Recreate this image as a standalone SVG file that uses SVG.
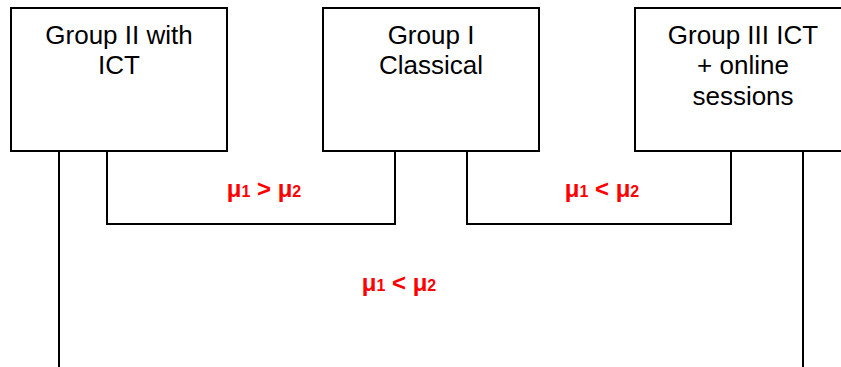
<svg xmlns="http://www.w3.org/2000/svg" width="841" height="367" viewBox="0 0 841 367">
<style>
.box{fill:#fff;stroke:#000;stroke-width:2}
.t{font-family:"Liberation Sans",Arial,sans-serif;font-size:26px;fill:#000;text-anchor:middle}
.c{fill:none;stroke:#000;stroke-width:2}
.lbl{font-family:"Liberation Sans",Arial,sans-serif;font-size:24px;font-weight:bold;fill:#ff0000;text-anchor:middle}
.sub{font-size:16px}
</style>
<rect width="841" height="367" fill="#fff"/>
<g id="connectors">
<path class="c" d="M59,151 V367"/>
<path class="c" d="M107,151 V224 H395 V151"/>
<path class="c" d="M467,151 V224 H731 V151"/>
<path class="c" d="M803,151 V367"/>
</g>
<g id="group2">
<rect class="box" x="11" y="8" width="216" height="143"/>
<text class="t" x="119" y="44">Group II with</text>
<text class="t" x="119" y="74">ICT</text>
</g>
<g id="group1">
<rect class="box" x="323" y="8" width="216" height="143"/>
<text class="t" x="431" y="44">Group I</text>
<text class="t" x="431" y="74">Classical</text>
</g>
<g id="group3">
<rect class="box" x="635" y="8" width="216" height="143"/>
<text class="t" x="743" y="44">Group III ICT</text>
<text class="t" x="743" y="74">+ online</text>
<text class="t" x="743" y="105">sessions</text>
</g>
<g id="labels">
<text class="lbl" x="264" y="197">μ<tspan class="sub">1</tspan> &gt; μ<tspan class="sub">2</tspan></text>
<text class="lbl" x="602" y="197">μ<tspan class="sub">1</tspan> &lt; μ<tspan class="sub">2</tspan></text>
<text class="lbl" x="399" y="291">μ<tspan class="sub">1</tspan> &lt; μ<tspan class="sub">2</tspan></text>
</g>
</svg>
